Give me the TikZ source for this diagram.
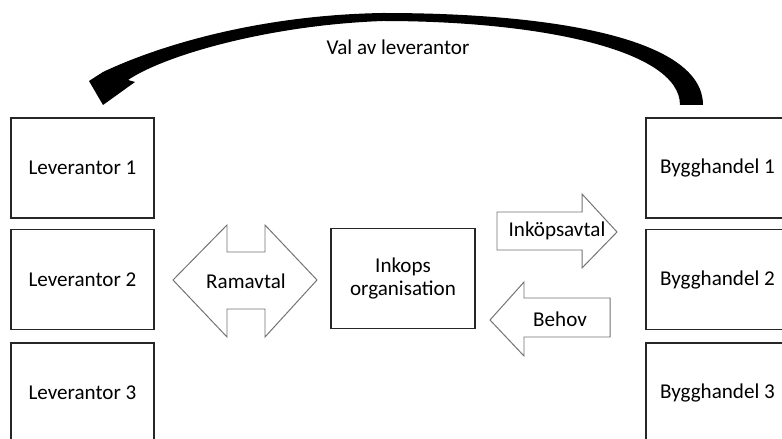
\documentclass[tikz,border=0pt]{standalone}
\usepackage{fontspec}
\setmainfont{Carlito}

\begin{document}
\begin{tikzpicture}[x=0.025cm,y=-0.025cm,
    box/.style={draw=black!85,line width=1.1pt,minimum width=3.575cm,
                minimum height=2.5cm,inner sep=0pt,align=center,
                font=\fontsize{15}{16.5}\selectfont},
    pil/.style={draw=black!55,line width=0.7pt,fill=white},
    txt/.style={inner sep=0pt,font=\fontsize{15}{16.5}\selectfont}]
     \useasboundingbox (0,0) rectangle (782,439);
     \clip (0,0) rectangle (782,439);
     % leverantorer
     \node[box] (lev1) at ( 82.5,168.0) {Leverantor 1};
     \node[box] (lev2) at ( 82.5,279.5) {Leverantor 2};
     \node[box] (lev3) at ( 82.5,393.0) {Leverantor 3};
     % bygghandlare
     \node[box] (byg1) at (717.5,168.0) {Bygghandel 1};
     \node[box] (byg2) at (717.5,279.5) {Bygghandel 2};
     \node[box] (byg3) at (717.5,393.0) {Bygghandel 3};
     % inkopsorganisation
     \node[box,minimum width=3.6cm] (inkop) at (403,278.5) {Inkops\\organisation};
     % ramavtal
     \draw[pil] (173,280) -- (227,225) -- (227,252) -- (265,252) -- (265,225)
        -- (317,280) -- (265,337) -- (265,309) -- (227,309) -- (227,337) -- cycle;
     \node[txt] (ramavtal) at (246,281) {Ramavtal};
     % inkopsavtal och behov
     \draw[pil] (497,212) -- (582,212) -- (582,194) -- (617,232) -- (582,268)
        -- (582,250) -- (497,250) -- cycle;
     \node[txt] (avtal) at (557,231) {Inköpsavtal};
     \draw[pil] (610,298) -- (524,298) -- (524,282) -- (490,320) -- (524,356)
        -- (524,337) -- (610,337) -- cycle;
     \node[txt] (behov) at (560,319) {Behov};
     % val av leverantor
     \fill[black] (703,105) .. controls (703,40) and (560,13) .. (383,13)
        .. controls (260,15) and (160,45) .. (103,72) -- (89,81) -- (103,105)
        -- (135,82) -- (128,80) .. controls (165,55) and (270,25) .. (383,21)
        .. controls (540,21) and (680,50) .. (680,105) -- cycle;
     \node[txt] (val) at (398,47) {Val av leverantor};
\end{tikzpicture}
\end{document}
